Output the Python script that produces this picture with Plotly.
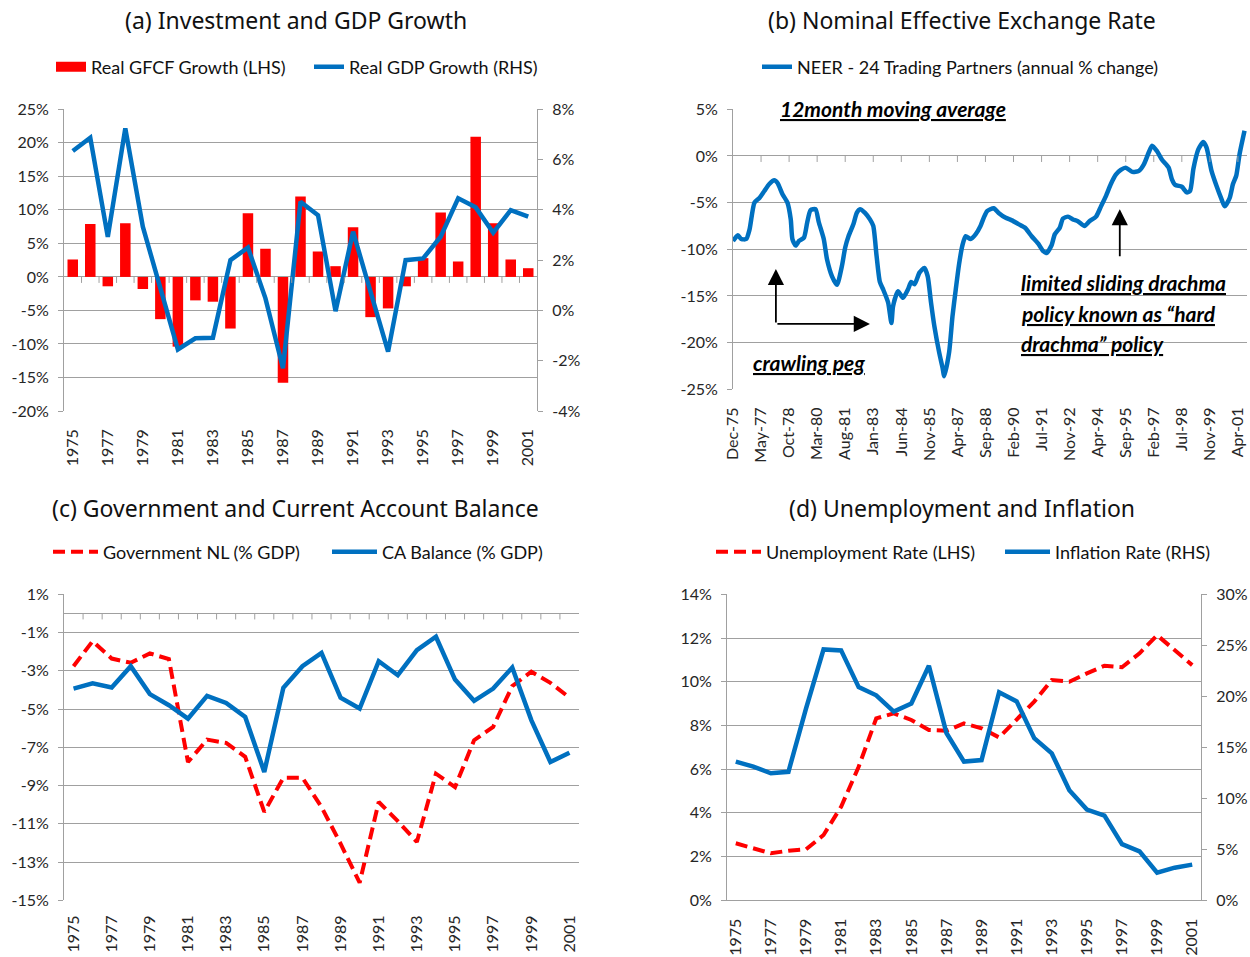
import plotly.graph_objects as go

W, H = 1250, 957

# ---------------- data ----------------
years = list(range(1975, 2002))

# (a) Investment and GDP growth, % per year
gfcf_growth = [2.6, 7.9, -1.4, 8.0, -1.8, -6.3, -10.4, -3.5, -3.7, -7.7, 9.5, 4.2, -15.8, 12.0,
               3.8, 1.6, 7.4, -6.0, -4.7, -1.4, 2.8, 9.6, 2.3, 20.9, 8.0, 2.6, 1.3]
gdp_growth = [6.34, 6.87, 2.93, 7.24, 3.33, 0.81, -1.55, -1.11, -1.09, 2.0, 2.5, 0.48, -2.3, 4.32,
              3.79, -0.03, 3.13, 0.74, -1.64, 2.0, 2.07, 2.93, 4.46, 4.1, 3.09, 3.99, 3.73]

# (b) NEER, 12-month moving average of annual % change (months since Dec-1975)
neer_month = [0, 3, 5, 8, 10, 13, 16, 19, 22, 25, 27, 30, 33, 35, 36, 38, 40, 43, 45, 47,
              50, 52, 55, 57, 60, 63, 66, 68, 70, 73, 75, 77, 80, 83, 85, 87, 89, 91, 94, 96,
              97, 100, 103, 106, 108, 110, 113, 116, 118, 120, 122, 125, 127, 128, 131, 133, 135, 137, 139, 141,
              144, 147, 150, 152, 154, 158, 161, 165, 169, 173, 177, 181, 185, 188, 190, 193, 195, 198, 200, 203,
              206, 209, 213, 216, 220, 223, 226, 229, 232, 235, 238, 242, 246, 249, 252, 254, 257, 260, 264, 266,
              268, 272, 275, 277, 279, 282, 285, 287, 290, 293, 296, 298, 301, 303, 305, 307, 310]
neer_value = [-9.1, -8.5, -8.9, -8.9, -7.9, -5.0, -4.5, -3.75, -3.0, -2.6, -2.9, -4.1, -5.0, -6.8, -8.9, -9.6, -9.1, -8.75, -7.1, -5.8,
              -5.7, -7.1, -8.9, -11.1, -12.9, -13.8, -11.8, -9.8, -8.6, -7.3, -6.1, -5.7, -6.1, -6.8, -7.5, -10.7, -13.5, -14.3, -15.7, -17.9,
              -16.1, -14.5, -15.2, -14.3, -13.5, -13.75, -12.5, -12.0, -12.9, -15.7, -18.2, -21.1, -22.7, -23.6, -21.0, -17.2, -14.3, -11.6, -9.6, -8.6,
              -8.9, -8.4, -7.5, -6.6, -5.9, -5.6, -6.1, -6.6, -6.9, -7.3, -7.7, -8.6, -9.4, -10.2, -10.4, -9.6, -8.4, -7.7, -6.7, -6.5,
              -6.8, -7.0, -7.5, -7.0, -6.5, -5.4, -4.3, -3.0, -2.0, -1.5, -1.25, -1.7, -1.6, -0.9, 0.4, 1.1, 0.5, -0.4, -1.25, -2.5,
              -3.1, -3.3, -3.9, -3.75, -1.4, 0.7, 1.5, 0.9, -1.6, -3.2, -4.6, -5.4, -4.5, -3.0, -2.1, 0.2, 2.7]
neer_tick_labels = ["Dec-75", "May-77", "Oct-78", "Mar-80", "Aug-81", "Jan-83", "Jun-84", "Nov-85",
                    "Apr-87", "Sep-88", "Feb-90", "Jul-91", "Nov-92", "Apr-94", "Sep-95", "Feb-97",
                    "Jul-98", "Nov-99", "Apr-01"]
neer_label_step = 17

# (c) Government and current account balance, % GDP
gov_nl = [-2.76, -1.45, -2.36, -2.58, -2.09, -2.39, -7.77, -6.6, -6.77, -7.5, -10.38, -8.59, -8.59, -10.12,
          -12.04, -14.08, -9.86, -10.86, -11.95, -8.38, -9.08, -6.63, -5.93, -3.8, -3.05, -3.63, -4.4]
ca_balance = [-3.93, -3.66, -3.87, -2.76, -4.22, -4.8, -5.5, -4.31, -4.68, -5.41, -8.29, -3.89, -2.76, -2.06,
              -4.4, -4.97, -2.5, -3.23, -1.92, -1.22, -3.46, -4.57, -3.93, -2.83, -5.58, -7.77, -7.28]

# (d) Unemployment and inflation, %
unemployment = [2.61, 2.38, 2.15, 2.27, 2.33, 2.99, 4.28, 6.11, 8.32, 8.55, 8.25, 7.79, 7.76, 8.09,
                7.87, 7.45, 8.25, 9.09, 10.08, 10.0, 10.38, 10.73, 10.66, 11.3, 12.13, 11.45, 10.76]
inflation = [13.6, 13.1, 12.45, 12.6, 18.8, 24.6, 24.5, 20.9, 20.1, 18.5, 19.3, 23.0, 16.4, 13.6,
             13.75, 20.4, 19.5, 15.9, 14.4, 10.8, 8.9, 8.3, 5.5, 4.8, 2.7, 3.2, 3.5]

ticks_a_left = [-20, -15, -10, -5, 0, 5, 10, 15, 20, 25]
ticks_a_right = [-4, -2, 0, 2, 4, 6, 8]
ticks_b = [-25, -20, -15, -10, -5, 0, 5]
ticks_c = [1, -1, -3, -5, -7, -9, -11, -13, -15]
ticks_d_left = [0, 2, 4, 6, 8, 10, 12, 14]
ticks_d_right = [0, 5, 10, 15, 20, 25, 30]

# ---------------- style ----------------
RED = "#FF0000"
BLUE = "#0070C0"
GRID = "#A0A0A0"
TXT = "#262626"
TICKFONT = dict(family="Lato", size=16, color=TXT)
TITLEFONT = dict(family="Noto Sans", size=23, color="#111111")
LEGFONT = dict(family="Lato", size=18, color="#111111")


def fx(p):
    return p / W


def fy(p):
    return 1 - p / H


def pct(vals):
    return [f"{v}%" for v in vals]


def yax(domain, rng, ticks, grid=True, **kw):
    d = dict(domain=domain, range=rng, tickvals=ticks, ticktext=pct(ticks), tickfont=TICKFONT,
             showgrid=grid, gridcolor=GRID, gridwidth=1, showline=True, linecolor=GRID, linewidth=1,
             ticks="outside", ticklen=5, tickcolor=GRID, zeroline=False, ticklabelstandoff=6,
             automargin=False)
    d.update(kw)
    return d


def xax(domain, rng, tickvals, ticktext, **kw):
    d = dict(domain=domain, range=rng, tickvals=tickvals, ticktext=ticktext, tickangle=-90,
             tickfont=TICKFONT, showgrid=False, zeroline=False, showline=False, ticks="",
             ticklabelstandoff=14, automargin=False)
    d.update(kw)
    return d


fig = go.Figure()

# (a)
fig.add_trace(go.Bar(x=years, y=gfcf_growth, name="Real GFCF Growth (LHS)", marker_color=RED,
                     xaxis="x", yaxis="y", showlegend=False))
# legend key drawn as a wide red block, as in the original
fig.add_trace(go.Scatter(x=[None], y=[None], name="Real GFCF Growth (LHS)", mode="lines",
                         line=dict(color=RED, width=13), xaxis="x", yaxis="y", legend="legend",
                         hoverinfo="skip"))
fig.add_trace(go.Scatter(x=years, y=gdp_growth, name="Real GDP Growth (RHS)", mode="lines",
                         line=dict(color=BLUE, width=4.5), xaxis="x", yaxis="y2", legend="legend"))
# (b)
fig.add_trace(go.Scatter(x=neer_month, y=neer_value, name="NEER - 24 Trading Partners (annual % change)",
                         mode="lines", line=dict(color=BLUE, width=4.5, shape="spline", smoothing=0.6),
                         xaxis="x2", yaxis="y3", legend="legend2"))
# (c)
fig.add_trace(go.Scatter(x=years, y=gov_nl, name="Government NL (% GDP)", mode="lines",
                         line=dict(color=RED, width=4, dash="12px,6px"), xaxis="x3", yaxis="y4",
                         legend="legend3"))
fig.add_trace(go.Scatter(x=years, y=ca_balance, name="CA Balance (% GDP)", mode="lines",
                         line=dict(color=BLUE, width=4.5), xaxis="x3", yaxis="y4", legend="legend3"))
# (d)
fig.add_trace(go.Scatter(x=years, y=unemployment, name="Unemployment Rate (LHS)", mode="lines",
                         line=dict(color=RED, width=4, dash="12px,6px"), xaxis="x4", yaxis="y5",
                         legend="legend4"))
fig.add_trace(go.Scatter(x=years, y=inflation, name="Inflation Rate (RHS)", mode="lines",
                         line=dict(color=BLUE, width=4.5), xaxis="x4", yaxis="y6", legend="legend4"))

odd_years = [y for y in years if y % 2 == 1]
yr_range = [years[0] - 0.5, years[-1] + 0.5]
neer_tickvals = [i * neer_label_step for i in range(len(neer_tick_labels))]

top_dom = [fy(411), fy(109.3)]
top_dom_b = [fy(389.3), fy(109.3)]
bot_dom = [fy(900.3), fy(594.3)]

LEG = dict(orientation="h", xanchor="left", yanchor="middle", font=LEGFONT, bgcolor="rgba(0,0,0,0)")

layout = dict(
    template="none",
    width=W, height=H, margin=dict(l=0, r=0, t=0, b=0, autoexpand=False),
    paper_bgcolor="white", plot_bgcolor="white", bargap=0.4,
    font=dict(family="Lato", color=TXT),
    xaxis=xax([fx(64), fx(537)], yr_range, odd_years, [str(y) for y in odd_years], anchor="y"),
    yaxis=yax(top_dom, [-20, 25], ticks_a_left, anchor="x"),
    yaxis2=yax(top_dom, [-4, 8], ticks_a_right, grid=False, overlaying="y", side="right", anchor="x"),
    xaxis2=xax([fx(733), fx(1247)], [0, 311.5], neer_tickvals, neer_tick_labels, anchor="y3"),
    yaxis3=yax(top_dom_b, [-25, 5], ticks_b, anchor="x2"),
    xaxis3=xax([fx(64), fx(579)], yr_range, odd_years, [str(y) for y in odd_years], anchor="y4",
               ticklabelstandoff=11),
    yaxis4=yax(bot_dom, [-15, 1], ticks_c, anchor="x3", zeroline=True, zerolinecolor=GRID,
               zerolinewidth=1),
    xaxis4=xax([fx(727), fx(1201)], yr_range, odd_years, [str(y) for y in odd_years], anchor="y5",
               showline=True, linecolor=GRID, ticklabelstandoff=11),
    yaxis5=yax(bot_dom, [0, 14], ticks_d_left, anchor="x4"),
    yaxis6=yax(bot_dom, [0, 30], ticks_d_right, grid=False, overlaying="y5", side="right",
               anchor="x4"),
    legend=dict(LEG, x=fx(51), y=fy(67), entrywidth=213, entrywidthmode="pixels"),
    legend2=dict(LEG, x=fx(757), y=fy(67)),
    legend3=dict(LEG, x=fx(48), y=fy(552), itemwidth=45, entrywidth=219, entrywidthmode="pixels"),
    legend4=dict(LEG, x=fx(711), y=fy(552), itemwidth=45, entrywidth=229, entrywidthmode="pixels"),
)
fig.update_layout(**layout)

# panel titles
titles = [("(a) Investment and GDP Growth", 296, 20), ("(b) Nominal Effective Exchange Rate", 962, 20),
          ("(c) Government and Current Account Balance", 295, 508), ("(d) Unemployment and Inflation", 962, 508)]
for text, px, py in titles:
    fig.add_annotation(text=text, x=fx(px), y=fy(py), xref="paper", yref="paper", showarrow=False,
                       xanchor="center", yanchor="middle", font=TITLEFONT)

# category-boundary tick marks on the category axes
shapes = []
for yr in years[:-1]:
    b = yr + 0.5
    for yref in ("y", "y4", "y5"):
        xref = {"y": "x", "y4": "x3", "y5": "x4"}[yref]
        shapes.append(dict(type="line", xref=xref, yref=yref, ysizemode="pixel", yanchor=0,
                           x0=b, x1=b, y0=0, y1=-6, line=dict(color=GRID, width=1)))
for tv in neer_tickvals[1:]:
    shapes.append(dict(type="line", xref="x2", yref="y3", ysizemode="pixel", yanchor=0,
                       x0=tv, x1=tv, y0=0, y1=-6, line=dict(color=GRID, width=1)))
fig.update_layout(shapes=shapes)

# panel (b) annotations
NOTE = dict(family="Lato", size=21, color="black", weight="bold", style="italic", lineposition="under")
fig.add_annotation(text="12month moving average", x=97, y=fy(108), xref="x2", yref="paper",
                   showarrow=False, xanchor="center", yanchor="middle", font=NOTE)
fig.add_annotation(text="crawling peg", x=11, y=-22.1, xref="x2", yref="y3", showarrow=False,
                   xanchor="left", yanchor="middle", font=NOTE)
for line_text, yv in [("limited sliding drachma", -13.6), ("policy known as \u201chard", -16.9),
                      ("drachma\u201d policy", -20.1)]:
    fig.add_annotation(text=line_text, x=173.5, y=yv, xref="x2", yref="y3", showarrow=False,
                       xanchor="left", yanchor="middle", font=NOTE)

ARROW = dict(showarrow=True, arrowhead=2, arrowsize=1.8, arrowwidth=1.8, arrowcolor="black",
             xref="x2", yref="y3", axref="x2", ayref="y3", text="")
fig.add_annotation(x=26, y=-12.1, ax=26, ay=-18.0, **ARROW)
fig.add_annotation(x=83, y=-18.0, ax=26, ay=-18.0, **ARROW)
fig.add_annotation(x=234.4, y=-5.7, ax=234.4, ay=-10.9, **ARROW)

# let the figure fill the browser window exactly (no default page margin / scrollbars)
fig.write_html("out.html", config={"displayModeBar": False},
               post_script="document.body.style.margin='0';"
                           "document.documentElement.style.overflow='hidden';")
